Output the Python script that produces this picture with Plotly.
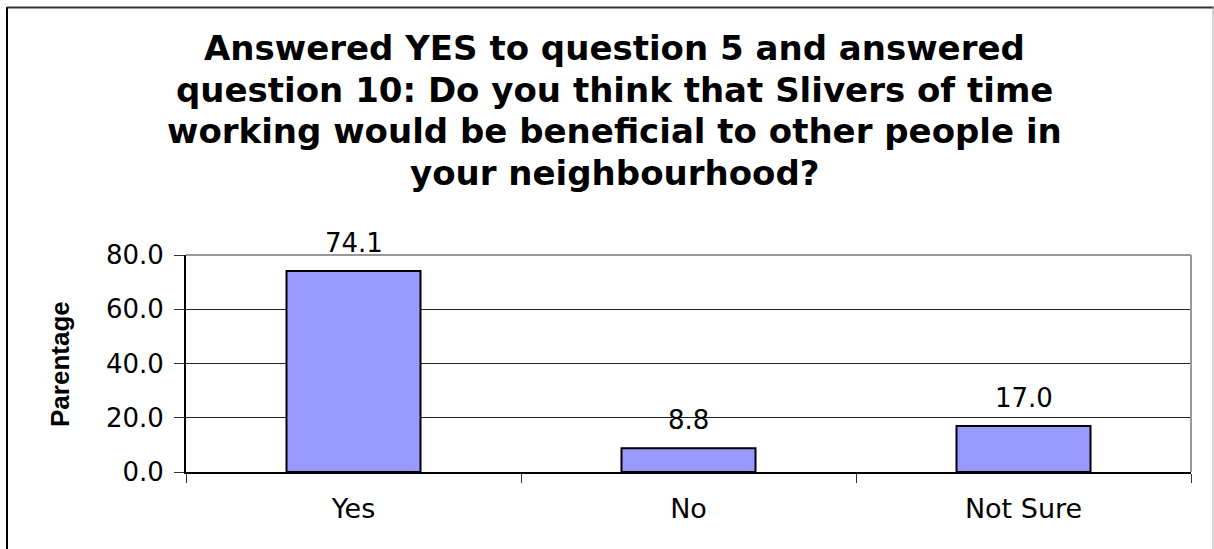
import plotly.graph_objects as go

# Survey responses (percent)
categories = ["Yes", "No", "Not Sure"]
percentages = [74.1, 8.8, 17.0]
y_ticks = [0, 20, 40, 60, 80]
y_tick_labels = ["0.0", "20.0", "40.0", "60.0", "80.0"]
title_lines = [
    "Answered YES to question 5 and answered",
    "question 10: Do you think that Slivers of time",
    "working would be beneficial to other people in",
    "your neighbourhood?",
]
y_axis_title = "Parentage"

W, H = 1214, 549
M_L, M_R, M_T, M_B = 186, 23, 255, 77
PLOT_W = W - M_L - M_R
PLOT_H = H - M_T - M_B
FONT = "DejaVu Sans, Liberation Sans, Arial, sans-serif"
NARROW_FONT = "Liberation Sans, Arial, sans-serif"


def px_x(px):
    return (px - M_L) / PLOT_W


def px_y(py):
    return (H - M_B - py) / PLOT_H


fig = go.Figure(
    go.Bar(
        x=categories,
        y=percentages,
        width=0.4,
        marker=dict(color="#9999FF", line=dict(color="#000000", width=2)),
        hoverinfo="x+y",
    )
)

annotations = []
# value labels above bars
for cat, val in zip(categories, percentages):
    annotations.append(dict(
        x=cat, y=val, xref="x", yref="y", text=f"{val:.1f}",
        showarrow=False, yanchor="bottom", yshift=11,
        font=dict(family=FONT, size=26, color="#000000"),
    ))

# multi-line chart title
for line, cy in zip(title_lines, [48, 90, 131, 173]):
    annotations.append(dict(
        x=px_x(614), y=px_y(cy), xref="paper", yref="paper", text=f"<b>{line}</b>",
        showarrow=False, xanchor="center", yanchor="middle",
        font=dict(family=FONT, size=34, color="#000000"),
    ))

# rotated y-axis title
annotations.append(dict(
    x=px_x(60), y=px_y(364), xref="paper", yref="paper", text=f"<b>{y_axis_title}</b>",
    showarrow=False, textangle=-90, xanchor="center", yanchor="middle",
    font=dict(family=NARROW_FONT, size=26, color="#000000"),
))

shapes = [
    # outer chart frame
    dict(type="line", xref="paper", yref="paper", x0=px_x(7), x1=px_x(7), y0=px_y(7), y1=px_y(H + 5),
         line=dict(color="#000000", width=2)),
    dict(type="line", xref="paper", yref="paper", x0=px_x(7), x1=px_x(W + 5), y0=px_y(7.5), y1=px_y(7.5),
         line=dict(color="#333333", width=2)),
    dict(type="line", xref="paper", yref="paper", x0=px_x(1213), x1=px_x(1213), y0=px_y(7), y1=px_y(H + 5),
         line=dict(color="#AAAAAA", width=1)),
    # plot area top and right edges
    dict(type="line", xref="paper", yref="paper", x0=0, x1=1, y0=1, y1=1,
         line=dict(color="#999999", width=2)),
    dict(type="line", xref="paper", yref="paper", x0=1, x1=1, y0=0, y1=1,
         line=dict(color="#999999", width=2)),
]

fig.update_layout(
    width=W, height=H,
    margin=dict(l=M_L, r=M_R, t=M_T, b=M_B),
    paper_bgcolor="#FFFFFF", plot_bgcolor="#FFFFFF",
    showlegend=False,
    annotations=annotations,
    shapes=shapes,
    font=dict(family=FONT, color="#000000"),
)

fig.update_xaxes(
    range=[-0.5, 2.5],
    showline=True, linecolor="#000000", linewidth=2,
    ticks="outside", tickson="boundaries", ticklen=9, tickwidth=1, tickcolor="#333333",
    tickfont=dict(family=FONT, size=27, color="#000000"),
    ticklabelstandoff=12,
    showgrid=False, zeroline=False,
)

fig.update_yaxes(
    range=[0, 80],
    tickvals=y_ticks, ticktext=y_tick_labels,
    showline=True, linecolor="#000000", linewidth=2,
    ticks="outside", ticklen=10, tickwidth=1, tickcolor="#333333",
    tickfont=dict(family=FONT, size=26, color="#000000"),
    ticklabelstandoff=5,
    showgrid=True, gridcolor="#222222", gridwidth=1,
    zeroline=False,
)

fig.write_html("out.html")
